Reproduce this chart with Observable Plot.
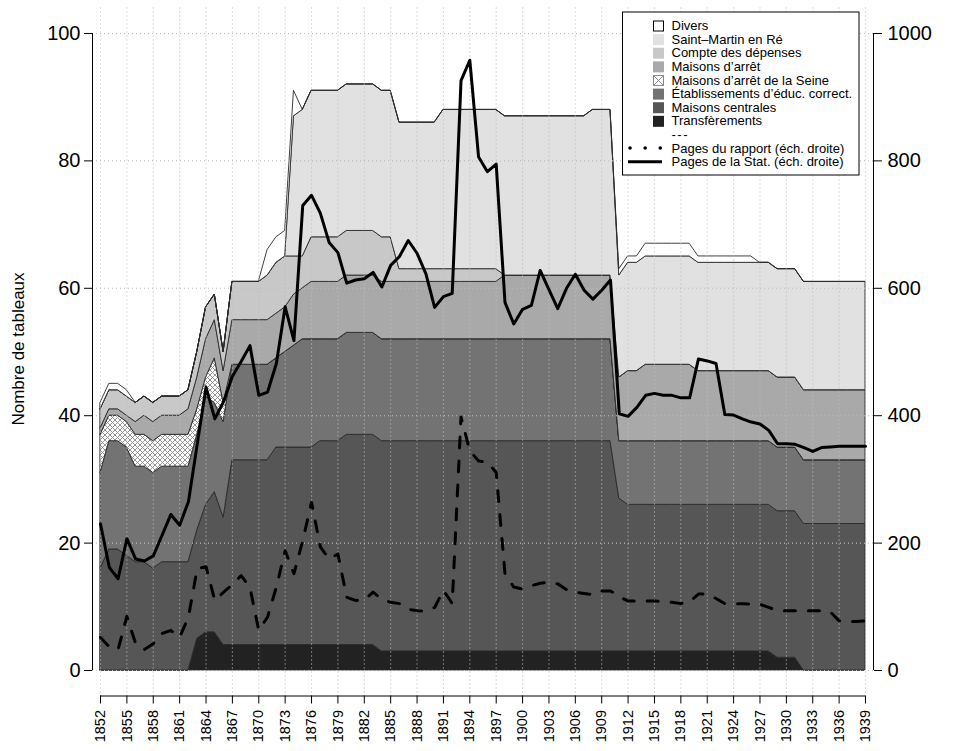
<!DOCTYPE html>
<html><head><meta charset="utf-8">
<script src="https://cdn.jsdelivr.net/npm/d3@7"></script>
<script src="https://cdn.jsdelivr.net/npm/@observablehq/plot@0.6"></script>
<style>
html,body{margin:0;padding:0;background:#fff;}
#chart{position:relative;width:953px;height:751px;}
svg{font-family:"Liberation Sans", Arial, Helvetica, sans-serif;}
</style></head><body>
<svg width="0" height="0" style="position:absolute">
<defs>
<pattern id="xhatch" patternUnits="userSpaceOnUse" width="5" height="5">
<rect width="5" height="5" fill="#fff"/>
<path d="M0,0L5,5M5,0L0,5" stroke="#8a8a8a" stroke-width="0.9"/>
</pattern>
</defs></svg>
<div id="chart"></div>
<script>
// ---- data ----
const years = d3.range(1852, 1940);

const transferements = [
  0,0,0,0,0,0,0,0,0,0,
  0,5,6,6,4,4,4,4,4,4,
  4,4,4,4,4,4,4,4,4,4,
  4,4,3,3,3,3,3,3,3,3,
  3,3,3,3,3,3,3,3,3,3,
  3,3,3,3,3,3,3,3,3,3,
  3,3,3,3,3,3,3,3,3,3,
  3,3,3,3,3,3,3,2,2,2,
  0,0,0,0,0,0,0,0];
const maisonsCentrales = [
  16,19,19,18,17,17,16,17,17,17,
  17,17,20,22,20,29,29,29,29,29,
  31,31,31,31,31,32,32,32,33,33,
  33,33,33,33,33,33,33,33,33,33,
  33,33,33,33,33,33,33,33,33,33,
  33,33,33,33,33,33,33,33,33,24,
  23,23,23,23,23,23,23,23,23,23,
  23,23,23,23,23,23,23,23,23,23,
  23,23,23,23,23,23,23,23];
const etablissements = [
  15,17,17,17,15,15,15,15,15,15,
  15,15,17,14,15,15,15,15,15,15,
  14,15,16,17,17,16,16,16,16,16,
  16,16,16,16,16,16,16,16,16,16,
  16,16,16,16,16,16,16,16,16,16,
  16,16,16,16,16,16,16,16,16,9,
  10,10,10,10,10,10,10,10,10,10,
  10,10,10,10,10,10,10,10,10,10,
  10,10,10,10,10,10,10,10];
const maisonsArretSeine = [
  6,4,4,4,5,5,5,5,5,5,
  5,4,3,7,3,0,0,0,0,0,
  0,0,0,0,0,0,0,0,0,0,
  0,0,0,0,0,0,0,0,0,0,
  0,0,0,0,0,0,0,0,0,0,
  0,0,0,0,0,0,0,0,0,0,
  0,0,0,0,0,0,0,0,0,0,
  0,0,0,0,0,0,0,0,0,0,
  0,0,0,0,0,0,0,0];
const maisonsArret = [
  1,1,1,1,2,3,3,3,3,3,
  4,5,6,6,5,7,7,7,7,7,
  7,7,8,8,9,9,9,9,9,9,
  9,9,9,9,9,9,9,9,9,9,
  9,9,9,9,9,9,10,10,10,10,
  10,10,10,10,10,10,10,10,10,10,
  11,11,12,12,12,12,12,12,11,11,
  11,11,11,11,11,11,11,11,11,11,
  11,11,11,11,11,11,11,11];
const compteDepenses = [
  3,3,3,3,3,3,3,3,3,3,
  3,4,5,4,3,6,6,6,6,7,
  8,8,6,5,7,7,7,7,7,7,
  7,7,7,7,2,2,2,2,2,2,
  2,2,2,2,2,2,0,0,0,0,
  0,0,0,0,0,0,0,0,0,0,
  0,0,0,0,0,0,0,0,0,0,
  0,0,0,0,0,0,0,0,0,0,
  0,0,0,0,0,0,0,0];
const saintMartin = [
  0,0,0,0,0,0,0,0,0,0,
  0,0,0,0,0,0,0,0,0,0,
  0,0,22,23,23,23,23,23,23,23,
  23,23,23,23,23,23,23,23,23,25,
  25,25,25,25,25,25,25,25,25,25,
  25,25,25,25,25,25,26,26,26,16,
  17,17,17,17,17,17,17,17,17,17,
  17,17,17,17,17,17,17,17,17,17,
  17,17,17,17,17,17,17,17];
const divers = [
  1,1,1,1,0,0,0,0,0,0,
  0,0,0,0,0,0,0,0,0,4,
  4,4,4,0,0,0,0,0,0,0,
  0,0,0,0,0,0,0,0,0,0,
  0,0,0,0,0,0,0,0,0,0,
  0,0,0,0,0,0,0,0,0,1,
  1,1,2,2,2,2,2,2,1,1,
  1,1,1,1,1,0,0,0,0,0,
  0,0,0,0,0,0,0,0];

const pagesStat = [
  230,162,144,207,175,172,180,212,245,228,
  265,355,445,395,422,462,485,510,432,437,
  482,571,518,730,746,718,672,656,608,613,
  615,625,602,636,650,675,655,623,570,587,
  592,926,958,806,783,795,578,544,567,573,
  628,598,568,600,622,597,583,597,613,403,
  399,413,432,435,432,432,428,428,489,486,
  482,402,401,395,390,387,377,356,356,355,
  350,344,350,351,352,352,352,352];
const pagesRapport = [
  52,37,33,85,42,33,42,58,63,52,
  84,160,163,110,123,135,149,130,63,84,
  131,188,152,204,264,194,175,183,115,110,
  111,123,112,107,105,96,94,93,99,126,
  105,398,345,329,327,311,152,131,128,133,
  137,139,136,127,123,121,119,125,125,116,
  109,109,109,109,108,107,105,108,120,120,
  113,105,105,105,104,104,99,94,94,94,
  94,94,94,92,78,77,77,78];

const seriesNames = ["Transfèrements","Maisons centrales","Établissements d’éduc. correct.",
  "Maisons d’arrêt de la Seine","Maisons d’arrêt","Compte des dépenses","Saint\u2013Martin en Ré","Divers"];
const seriesValues = [transferements, maisonsCentrales, etablissements, maisonsArretSeine,
  maisonsArret, compteDepenses, saintMartin, divers];
const xTicks = d3.range(1852, 1940, 3);
const leftTicks = [0, 20, 40, 60, 80, 100];
const rightTicks = [0, 200, 400, 600, 800, 1000];
const pagesPerUnit = 10;
const lineLabels = ["---", "Pages du rapport (éch. droite)", "Pages de la Stat. (éch. droite)"];

// ---- styles ----
const seriesFills = ["#222222","#565656","#737373","url(#xhatch)","#a9a9a9","#c8c8c8","#e1e1e1","#ffffff"];

const stacked = seriesNames.flatMap((s, i) => years.map((yr, j) => ({year: yr, series: s, value: seriesValues[i][j]})));
const statData = years.map((yr, j) => ({year: yr, pages: pagesStat[j]}));
const rapportData = years.map((yr, j) => ({year: yr, pages: pagesRapport[j]}));

const xDomain = [1851.09, 1939.91];
const yDomain = [-4, 104];

const plot = Plot.plot({
  width: 953, height: 751,
  marginLeft: 92, marginRight: 80, marginTop: 7.5, marginBottom: 55.5,
  x: {domain: xDomain},
  y: {domain: yDomain},
  color: {type: "ordinal", domain: seriesNames, range: seriesFills},
  style: {fontFamily: "Liberation Sans, Arial, Helvetica, sans-serif", background: "white", color: "black"},
  marks: [
    Plot.areaY(stacked, {x: "year", y: "value", z: "series", fill: "series", order: seriesNames,
      stroke: "#2a2a2a", strokeWidth: 0.9, curve: "linear"}),
    Plot.gridX(xTicks, {stroke: "#bdbdbd", strokeOpacity: 1, strokeWidth: 1.1, strokeDasharray: "1,3"}),
    Plot.gridY(leftTicks, {stroke: "#bdbdbd", strokeOpacity: 1, strokeWidth: 1.1, strokeDasharray: "1,3"}),
    Plot.line(rapportData, {x: "year", y: d => d.pages / pagesPerUnit, stroke: "black", strokeWidth: 3,
      strokeDasharray: "11,13", strokeLinecap: "round", strokeLinejoin: "round"}),
    Plot.line(statData, {x: "year", y: d => d.pages / pagesPerUnit, stroke: "black", strokeWidth: 3,
      strokeLinejoin: "round"}),
    Plot.ruleX([xDomain[0]], {y1: leftTicks[0], y2: leftTicks[leftTicks.length - 1], stroke: "black"}),
    Plot.ruleX([xDomain[1]], {y1: leftTicks[0], y2: leftTicks[leftTicks.length - 1], stroke: "black"}),
    Plot.ruleY([yDomain[0]], {x1: years[0], x2: years[years.length - 1], stroke: "black"}),
    Plot.axisX(xTicks, {anchor: "bottom", tickRotate: -90, tickSize: 8, tickPadding: 6, fontSize: 14.5,
      tickFormat: d => String(d), label: null}),
    Plot.axisY(leftTicks, {anchor: "left", tickSize: 8, tickPadding: 4, fontSize: 20,
      tickFormat: d => String(d), label: null}),
    Plot.axisY(rightTicks.map(v => v / pagesPerUnit), {anchor: "right", tickSize: 8, tickPadding: 6, fontSize: 20,
      tickFormat: d => String(Math.round(d * pagesPerUnit)), label: null})
  ]
});
document.getElementById("chart").appendChild(plot);

// ---- y label and legend ----
const svg = d3.select(plot);
svg.append("text")
  .attr("transform", "translate(18,349) rotate(-90)")
  .attr("text-anchor", "middle").attr("dy", "0.35em")
  .attr("font-size", 17).attr("fill", "black")
  .text("Nombre de tableaux");

const lg = svg.append("g").attr("font-size", 13).attr("fill", "black").attr("text-anchor", "start");
lg.append("rect").attr("x", 622.5).attr("y", 12).attr("width", 236.5).attr("height", 163)
  .attr("fill", "white").attr("stroke", "black").attr("stroke-width", 1);
const y0 = 25.5, step = 13.62, tx = 671.5, sx = 653;
const legendSeries = seriesNames.slice().reverse();
const legendFills = seriesFills.slice().reverse();
legendSeries.forEach((name, i) => {
  const cy = y0 + i * step;
  if (name.includes("Seine")) {
    lg.append("rect").attr("x", sx + 0.5).attr("y", cy - 4.5).attr("width", 10).attr("height", 10)
      .attr("fill", "white").attr("stroke", "#8a8a8a");
    lg.append("path").attr("d", `M${sx+0.5},${cy-4.5}L${sx+10.5},${cy+5.5}M${sx+10.5},${cy-4.5}L${sx+0.5},${cy+5.5}`)
      .attr("stroke", "#8a8a8a");
  } else if (name === "Divers") {
    lg.append("rect").attr("x", sx + 0.5).attr("y", cy - 4.5).attr("width", 10).attr("height", 10)
      .attr("fill", "white").attr("stroke", "black");
  } else {
    lg.append("rect").attr("x", sx).attr("y", cy - 5).attr("width", 11).attr("height", 11)
      .attr("fill", legendFills[i]);
  }
  lg.append("text").attr("x", tx).attr("y", cy).attr("dy", "0.35em").attr("text-anchor", "start").text(name);
});
lineLabels.forEach((name, k) => {
  const cy = y0 + (legendSeries.length + k) * step;
  lg.append("text").attr("x", tx).attr("y", cy).attr("dy", "0.35em").attr("text-anchor", "start")
    .attr("letter-spacing", k === 0 ? "1.5px" : null).text(name);
  if (k === 1) {
    lg.append("line").attr("x1", 630).attr("x2", 662).attr("y1", cy).attr("y2", cy)
      .attr("stroke", "black").attr("stroke-width", 3.5).attr("stroke-linecap", "round")
      .attr("stroke-dasharray", "0.1,15");
  } else if (k === 2) {
    lg.append("line").attr("x1", 628).attr("x2", 662).attr("y1", cy).attr("y2", cy)
      .attr("stroke", "black").attr("stroke-width", 3);
  }
});
</script>
</body></html>
